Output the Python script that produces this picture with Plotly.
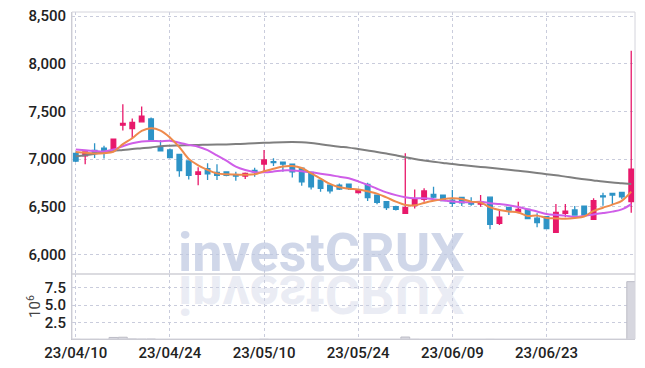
import plotly.graph_objects as go

dates = [
    "23/04/10", "23/04/11", "23/04/12", "23/04/13", "23/04/14", "23/04/17", "23/04/18", "23/04/19", "23/04/20", "23/04/21",
    "23/04/24", "23/04/25", "23/04/26", "23/04/27", "23/04/28", "23/05/02", "23/05/03", "23/05/04", "23/05/08", "23/05/09",
    "23/05/10", "23/05/11", "23/05/12", "23/05/15", "23/05/16", "23/05/17", "23/05/18", "23/05/19", "23/05/22", "23/05/23",
    "23/05/24", "23/05/25", "23/05/26", "23/05/30", "23/05/31", "23/06/01", "23/06/02", "23/06/05", "23/06/07", "23/06/08",
    "23/06/09", "23/06/12", "23/06/13", "23/06/14", "23/06/15", "23/06/16", "23/06/19", "23/06/20", "23/06/21", "23/06/22",
    "23/06/23", "23/06/26", "23/06/27", "23/06/28", "23/06/29", "23/06/30", "23/07/03", "23/07/04", "23/07/05", "23/07/06",
]

opens = [7060, 7035, 7090, 7115, 7100, 7355, 7320, 7390, 7420, 7130,
         7095, 7050, 6980, 6840, 6900, 6860, 6865, 6830, 6822, 6880,
         6948, 6972, 6968, 6948, 6905, 6860, 6780, 6727, 6727, 6738,
         6648, 6735, 6623, 6553, 6500, 6431, 6511, 6578, 6630, 6623,
         6570, 6599, 6549, 6528, 6600, 6326, 6494, 6448, 6473, 6380,
         6395, 6232, 6431, 6466, 6507, 6368, 6615, 6640, 6651, 6553]
highs = [7070, 7080, 7165, 7140, 7210, 7575, 7425, 7550, 7435, 7200,
         7110, 7050, 6985, 6915, 6955, 6945, 6870, 6867, 6860, 6910,
         7094, 7008, 6970, 6950, 6910, 6862, 6785, 6730, 6745, 6740,
         6672, 6752, 6625, 6555, 6510, 7060, 6682, 6693, 6710, 6625,
         6675, 6600, 6600, 6623, 6605, 6466, 6495, 6553, 6475, 6431,
         6400, 6528, 6528, 6507, 6510, 6588, 6647, 6642, 6655, 8135]
lows = [6970, 6945, 7010, 7005, 7100, 7300, 7215, 7390, 7200, 7085,
        7010, 6815, 6785, 6725, 6780, 6780, 6820, 6773, 6790, 6815,
        6867, 6927, 6867, 6808, 6720, 6682, 6657, 6640, 6675, 6675,
        6640, 6560, 6525, 6466, 6460, 6431, 6483, 6553, 6590, 6560,
        6500, 6507, 6510, 6500, 6263, 6310, 6413, 6431, 6370, 6284,
        6265, 6232, 6389, 6410, 6410, 6368, 6511, 6528, 6578, 6437]
closes = [6980, 7075, 7060, 7060, 7210, 7375, 7385, 7450, 7200, 7085,
          7015, 6880, 6830, 6865, 6845, 6830, 6830, 6822, 6850, 6866,
          6990, 6962, 6948, 6867, 6762, 6710, 6693, 6668, 6686, 6693,
          6668, 6595, 6546, 6490, 6473, 6490, 6581, 6665, 6600, 6565,
          6535, 6542, 6528, 6553, 6316, 6390, 6466, 6473, 6375, 6333,
          6270, 6441, 6455, 6413, 6413, 6563, 6605, 6623, 6605, 6895]

ma5 = [7075, 7065, 7058, 7062, 7077, 7156, 7218, 7296, 7324, 7299,
       7227, 7126, 7002, 6935, 6887, 6850, 6840, 6838, 6835, 6840,
       6872, 6898, 6923, 6927, 6906, 6850, 6796, 6740, 6704, 6690,
       6682, 6662, 6638, 6598, 6554, 6519, 6516, 6540, 6562, 6580,
       6589, 6581, 6554, 6545, 6495, 6466, 6451, 6440, 6404, 6407,
       6383, 6378, 6375, 6382, 6398, 6457, 6490, 6523, 6562, 6658]
ma10 = [7100, 7092, 7085, 7080, 7100, 7135, 7165, 7185, 7190, 7188,
        7192, 7172, 7149, 7130, 7093, 7039, 6983, 6920, 6885, 6863,
        6861, 6869, 6881, 6881, 6873, 6861, 6847, 6832, 6815, 6798,
        6766, 6729, 6689, 6651, 6622, 6600, 6589, 6589, 6580, 6567,
        6554, 6549, 6547, 6553, 6538, 6528, 6516, 6497, 6474, 6451,
        6425, 6415, 6407, 6393, 6403, 6420, 6434, 6449, 6472, 6528]
ma60 = [7030, 7040, 7055, 7072, 7085, 7095, 7105, 7113, 7122, 7135,
        7140, 7143, 7146, 7148, 7150, 7152, 7154, 7157, 7161, 7165,
        7170, 7174, 7177, 7178, 7176, 7168, 7155, 7142, 7130, 7120,
        7105, 7090, 7075, 7058, 7040, 7018, 7000, 6985, 6972, 6960,
        6948, 6938, 6928, 6918, 6908, 6898, 6888, 6877, 6866, 6854,
        6842, 6830, 6816, 6802, 6788, 6776, 6764, 6754, 6746, 6738]

volumes = [150000, 120000, 140000, 130000, 420000, 450000, 210000, 180000, 200000, 110000,
           90000, 130000, 120000, 110000, 80000, 70000, 60000, 60000, 70000, 80000,
           160000, 90000, 70000, 80000, 100000, 110000, 90000, 70000, 60000, 70000,
           60000, 100000, 90000, 80000, 70000, 480000, 150000, 120000, 80000, 60000,
           70000, 60000, 50000, 60000, 140000, 90000, 60000, 70000, 80000, 70000,
           90000, 130000, 80000, 60000, 70000, 110000, 60000, 50000, 60000, 8300000]

price_ticks = [6000, 6500, 7000, 7500, 8000, 8500]
vol_ticks = [2500000, 5000000, 7500000]
vol_tick_text = ["2.5", "5.0", "7.5"]
x_ticks = dates[::10]

UP = "#e8196b"
DOWN = "#2d93c6"
GRID = "#c9ccdc"
FONT = "Roboto, sans-serif"
TICKFONT = dict(size=15, family=FONT, color="#222", weight=500)

fig = go.Figure()
fig.add_trace(go.Bar(
    x=dates, y=volumes, yaxis="y2", xaxis="x",
    marker=dict(color="#d7d7df", line=dict(color="#bdbdc7", width=1)),
    showlegend=False, hoverinfo="skip",
))
fig.add_trace(go.Candlestick(
    x=dates, open=opens, high=highs, low=lows, close=closes,
    increasing=dict(line=dict(color=UP, width=1.3), fillcolor=UP),
    decreasing=dict(line=dict(color=DOWN, width=1.3), fillcolor=DOWN),
    yaxis="y", xaxis="x", showlegend=False,
))
fig.add_trace(go.Scatter(x=dates, y=ma60, mode="lines", yaxis="y",
                         line=dict(color="#7f7f7f", width=2, shape="spline"), showlegend=False))
fig.add_trace(go.Scatter(x=dates, y=ma10, mode="lines", yaxis="y",
                         line=dict(color="#cf5ee8", width=2, shape="spline"), showlegend=False))
fig.add_trace(go.Scatter(x=dates, y=ma5, mode="lines", yaxis="y",
                         line=dict(color="#ee8a4c", width=2, shape="spline"), showlegend=False))

split = 65 / 327

fig.update_layout(
    width=645, height=368,
    margin=dict(l=72, r=10, t=12, b=29),
    paper_bgcolor="white", plot_bgcolor="white",
    showlegend=False, bargap=0.06,
    font=dict(family=FONT, size=14, color="#222"),
    xaxis=dict(
        type="category", range=[-0.4, 59.4], rangeslider=dict(visible=False),
        tickvals=x_ticks, ticktext=x_ticks, showgrid=True, gridcolor=GRID, griddash="dot",
        anchor="y2", showline=True, linecolor="#c4c4cc", linewidth=1, ticks="",
        ticklabelstandoff=0, tickfont=TICKFONT, zeroline=False, automargin=False,
    ),
    yaxis=dict(
        domain=[split, 1], range=[5795, 8542], tickvals=price_ticks, tickformat=",d",
        showgrid=True, gridcolor=GRID, griddash="dot", showline=True, linecolor="#c4c4cc",
        ticks="", ticklabelstandoff=2, tickfont=TICKFONT, zeroline=False, automargin=False,
    ),
    yaxis2=dict(
        domain=[0, split], range=[200000, 9380000], tickvals=vol_ticks, ticktext=vol_tick_text,
        showgrid=True, gridcolor=GRID, griddash="dot", showline=True, linecolor="#c4c4cc",
        ticks="", ticklabelstandoff=2, tickfont=TICKFONT, zeroline=False, automargin=False,
        title=dict(text="10<sup>6</sup>", font=dict(size=15, family=FONT, color="#444"), standoff=0),
    ),
    shapes=[
        dict(type="rect", xref="paper", yref="paper", x0=0, x1=1, y0=0, y1=1,
             line=dict(color="#d4d4dc", width=1), layer="above"),
        dict(type="line", xref="paper", yref="paper", x0=0, x1=1, y0=split, y1=split,
             line=dict(color="#cfcfd6", width=1.5), layer="above"),
    ],
    annotations=[
        dict(text="investCRUX", xref="paper", yref="paper", x=0.443, y=0.263,
             xanchor="center", yanchor="middle", showarrow=False,
             font=dict(family="Roboto", size=54, color="rgba(190,199,225,0.72)", weight=700)),
        dict(text="investCRUX", xref="paper", yref="paper", x=0.443, y=0.135,
             xanchor="center", yanchor="middle", showarrow=False,
             font=dict(family="Roboto", size=54, color="rgba(205,210,228,0.42)", weight=700)),
    ],
)

post = """
var gd = document.getElementById('{plot_id}');
var t = gd.querySelector('.annotation[data-index="1"] .annotation-text');
if (t) { t.style.transformBox = 'fill-box'; t.style.transformOrigin = 'center'; t.style.transform = 'scaleY(-1)'; }
"""

fig.write_html("out.html", post_script=post, config={"displayModeBar": False})
